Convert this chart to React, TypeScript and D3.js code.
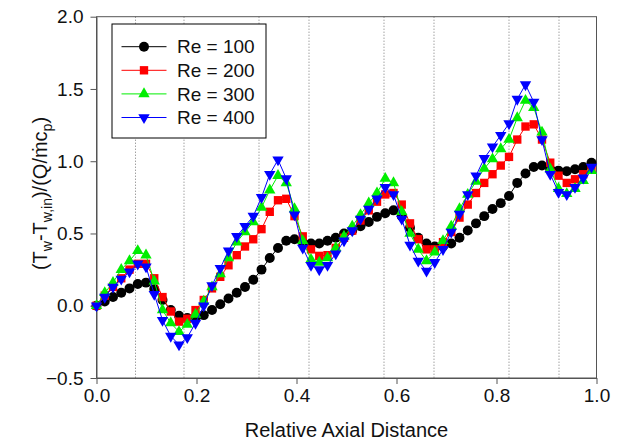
import React, { useRef, useEffect } from 'react';
import * as d3 from 'd3';

// relative axial positions of the wall thermocouples
const relDistance = [
  0, 0.0165, 0.033, 0.0495, 0.066, 0.0825, 0.099, 0.1155, 0.132, 0.1485,
  0.165, 0.1815, 0.198, 0.2145, 0.231, 0.2475, 0.264, 0.2805, 0.297, 0.3135,
  0.33, 0.3465, 0.363, 0.3795, 0.396, 0.4125, 0.429, 0.4455, 0.462, 0.4785,
  0.495, 0.5115, 0.528, 0.5445, 0.561, 0.5775, 0.594, 0.6105, 0.627, 0.6435,
  0.66, 0.6765, 0.693, 0.7095, 0.726, 0.7425, 0.759, 0.7755, 0.792, 0.8085,
  0.825, 0.8415, 0.858, 0.8745, 0.891, 0.9075, 0.924, 0.9405, 0.957, 0.9735,
  0.99,
];

const re100 = [
  0, 0.03, 0.06, 0.09, 0.12, 0.15, 0.16, 0.115, 0.04, -0.03,
  -0.07, -0.085, -0.085, -0.065, -0.03, 0.01, 0.05, 0.09, 0.13, 0.18,
  0.25, 0.33, 0.4, 0.45, 0.46, 0.44, 0.43, 0.43, 0.45, 0.47,
  0.5, 0.52, 0.55, 0.58, 0.615, 0.64, 0.66, 0.62, 0.54, 0.47,
  0.43, 0.41, 0.41, 0.43, 0.47, 0.52, 0.57, 0.62, 0.67, 0.71,
  0.76, 0.85, 0.915, 0.96, 0.97, 0.945, 0.935, 0.93, 0.945, 0.96,
  0.99,
];

const re200 = [
  0, 0.07, 0.13, 0.19, 0.25, 0.29, 0.29, 0.19, 0.06, -0.04,
  -0.11, -0.09, -0.03, 0.04, 0.12, 0.2, 0.28, 0.35, 0.41, 0.46,
  0.53, 0.65, 0.73, 0.74, 0.62, 0.48, 0.39, 0.345, 0.35, 0.4,
  0.47, 0.52, 0.59, 0.66, 0.72, 0.77, 0.78, 0.7, 0.57, 0.46,
  0.39, 0.39, 0.44, 0.51, 0.61, 0.7, 0.78, 0.85, 0.91, 0.97,
  1.03, 1.15, 1.24, 1.255, 1.15, 0.99, 0.9, 0.85, 0.875, 0.91,
  0.945,
];

const re300 = [
  0, 0.09, 0.16, 0.25, 0.31, 0.38, 0.35, 0.17, -0.03, -0.12,
  -0.18, -0.13, -0.06, 0.03, 0.13, 0.22, 0.33, 0.44, 0.51, 0.58,
  0.68, 0.8, 0.9, 0.85, 0.67, 0.45, 0.32, 0.3, 0.33, 0.4,
  0.48, 0.55, 0.63, 0.71, 0.78, 0.88, 0.85, 0.65, 0.5, 0.39,
  0.31, 0.37, 0.45, 0.55, 0.67, 0.77, 0.86, 0.95, 1.015, 1.085,
  1.15, 1.3, 1.42, 1.37, 1.2, 0.945, 0.81, 0.775, 0.81, 0.865,
  0.935,
];

const re400 = [
  0, 0.06, 0.13, 0.185, 0.235, 0.29, 0.27, 0.08, -0.1, -0.21,
  -0.27, -0.22, -0.12, 0, 0.14, 0.26, 0.38, 0.48, 0.55, 0.62,
  0.75, 0.91, 1.01, 0.88, 0.63, 0.4, 0.28, 0.25, 0.28, 0.36,
  0.45, 0.52, 0.6, 0.67, 0.74, 0.82, 0.77, 0.6, 0.42, 0.31,
  0.24, 0.3, 0.39, 0.51, 0.635, 0.77, 0.9, 1.02, 1.1, 1.18,
  1.26, 1.43, 1.53, 1.41, 1.15, 0.91, 0.785, 0.77, 0.82, 0.885,
  0.96,
];

const seriesLabels = ['Re = 100', 'Re = 200', 'Re = 300', 'Re = 400'];
const xTicks = [0, 0.2, 0.4, 0.6, 0.8, 1.0];
const yTicks = [-0.5, 0, 0.5, 1.0, 1.5, 2.0];
// dotted guide lines (section boundaries)
const guideLines = [0.078, 0.175, 0.325, 0.425, 0.575, 0.675, 0.825, 0.925];

const FONT = '"Liberation Sans", Arial, Helvetica, sans-serif';

const App = () => {
  const svgRef = useRef<SVGSVGElement>(null);

  useEffect(() => {
    const W = 622, H = 443;
    const plot = { left: 96.5, right: 596.5, top: 16.7, bottom: 378 };

    const svg = d3.select(svgRef.current);
    svg.selectAll('*').remove();
    svg.attr('width', W).attr('height', H);

    const x = d3.scaleLinear().domain([0, 1]).range([plot.left, plot.right]);
    const y = d3.scaleLinear().domain([-0.5, 2]).range([plot.bottom, plot.top]);

    // dotted guides
    svg.append('g')
      .selectAll('line')
      .data(guideLines)
      .join('line')
      .attr('x1', d => x(d)).attr('x2', d => x(d))
      .attr('y1', plot.top).attr('y2', plot.bottom)
      .attr('stroke', '#777')
      .attr('stroke-width', 1)
      .attr('stroke-dasharray', '1,2');

    // frame
    svg.append('rect')
      .attr('x', plot.left).attr('y', plot.top)
      .attr('width', plot.right - plot.left)
      .attr('height', plot.bottom - plot.top)
      .attr('fill', 'none')
      .attr('stroke', '#555')
      .attr('stroke-width', 1);

    // axes
    const xAxis = svg.append('g')
      .attr('transform', `translate(0,${plot.bottom})`)
      .call(d3.axisBottom(x).tickValues(xTicks).tickFormat(d3.format('.1f'))
        .tickSize(6).tickSizeOuter(0).tickPadding(5));
    const yAxis = svg.append('g')
      .attr('transform', `translate(${plot.left},0)`)
      .call(d3.axisLeft(y).tickValues(yTicks).tickFormat(d3.format('.1f'))
        .tickSize(6).tickSizeOuter(0).tickPadding(7));
    [xAxis, yAxis].forEach(g => {
      g.select('.domain').attr('stroke', '#555');
      g.selectAll('.tick line').attr('stroke', '#555');
      g.selectAll('.tick text')
        .attr('fill', '#111')
        .style('font-family', FONT)
        .style('font-size', '19px');
    });

    // series
    const series = [
      { values: re100, color: '#000000', shape: d3.symbolCircle, size: 78, rotate: 0 },
      { values: re200, color: '#ff0000', shape: d3.symbolSquare, size: 70, rotate: 0 },
      { values: re300, color: '#00ee00', shape: d3.symbolTriangle, size: 56, rotate: 0 },
      { values: re400, color: '#0000ff', shape: d3.symbolTriangle, size: 56, rotate: 180 },
    ];

    const line = d3.line<[number, number]>()
      .x(d => x(d[0]))
      .y(d => y(d[1]));

    series.forEach(s => {
      const pts: [number, number][] = relDistance.map((d, i) => [d, s.values[i]]);
      const g = svg.append('g');
      g.append('path')
        .datum(pts)
        .attr('fill', 'none')
        .attr('stroke', s.color)
        .attr('stroke-width', 1)
        .attr('d', line);
      g.selectAll('path.mark')
        .data(pts)
        .join('path')
        .attr('class', 'mark')
        .attr('d', d3.symbol().type(s.shape).size(s.size)())
        .attr('transform', d => `translate(${x(d[0])},${y(d[1])}) rotate(${s.rotate})`)
        .attr('fill', s.color);
    });

    // legend
    const legend = svg.append('g');
    legend.append('rect')
      .attr('x', 112).attr('y', 24)
      .attr('width', 154).attr('height', 114)
      .attr('fill', '#fff')
      .attr('stroke', '#000')
      .attr('stroke-width', 1);
    series.forEach((s, i) => {
      const ly = 46.7 + i * 23.6;
      legend.append('line')
        .attr('x1', 121.5).attr('x2', 166.5)
        .attr('y1', ly).attr('y2', ly)
        .attr('stroke', s.color).attr('stroke-width', 1);
      legend.append('path')
        .attr('d', d3.symbol().type(s.shape).size(s.size)())
        .attr('transform', `translate(144,${ly}) rotate(${s.rotate})`)
        .attr('fill', s.color);
      legend.append('text')
        .attr('x', 177).attr('y', ly)
        .attr('dy', '0.35em')
        .style('font-family', FONT)
        .style('font-size', '19px')
        .attr('fill', '#111')
        .text(seriesLabels[i]);
    });

    // axis titles
    svg.append('text')
      .attr('x', (plot.left + plot.right) / 2)
      .attr('y', 437)
      .attr('text-anchor', 'middle')
      .style('font-family', FONT)
      .style('font-size', '20px')
      .attr('fill', '#111')
      .text('Relative Axial Distance');

    const yt = svg.append('text')
      .attr('transform', 'translate(47,193.5) rotate(-90)')
      .attr('text-anchor', 'middle')
      .style('font-family', FONT)
      .style('font-size', '20px')
      .attr('fill', '#111');
    yt.append('tspan').text('(T');
    yt.append('tspan').attr('dy', 5).style('font-size', '14px').text('w');
    yt.append('tspan').attr('dy', -5).text('-T');
    yt.append('tspan').attr('dy', 5).style('font-size', '14px').text('w,in');
    yt.append('tspan').attr('dy', -5).text(')/(Q/\u1E41c');
    yt.append('tspan').attr('dy', 5).style('font-size', '14px').text('p');
    yt.append('tspan').attr('dy', -5).text(')');
  }, []);

  return (
    <svg ref={svgRef} width={622} height={443}
      style={{ position: 'absolute', left: 0, top: 0, background: '#fff' }} />
  );
};

export default App;
